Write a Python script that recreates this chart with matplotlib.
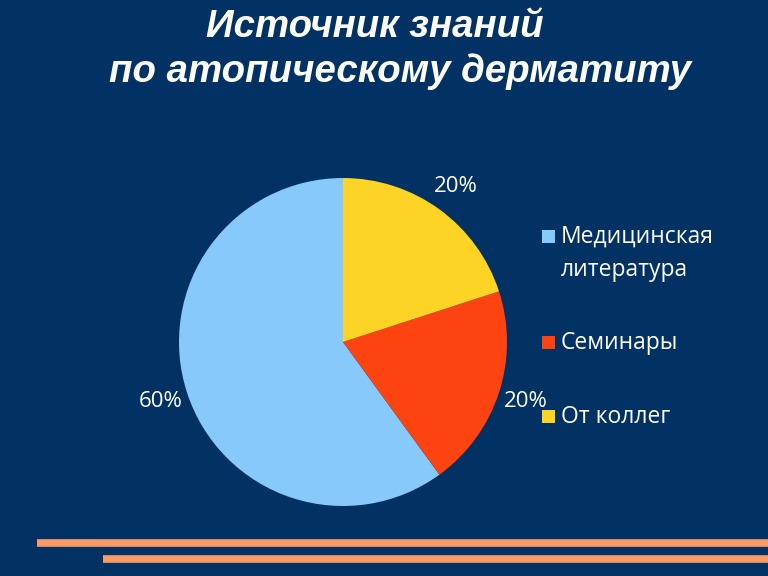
import matplotlib
matplotlib.use('Agg')
import matplotlib.pyplot as plt
from matplotlib.patches import Rectangle

# data
sources = ['Медицинская\nлитература', 'Семинары', 'От коллег']
shares = [60, 20, 20]
slice_colors = ['#87C9FA', '#FD4310', '#FDD324']
title_lines = ['Источник знаний', 'по атопическому дерматиту']

bg = '#023263'
line_color = '#F99A68'
W, H = 768, 576

fig = plt.figure(figsize=(7.68, 5.76), dpi=100, facecolor=bg)

# pie axes: centre ~ (343, 342) px, radius ~164 px
ax = fig.add_axes([179 / W, 70 / H, 328 / W, 328 / H])
ax.set_facecolor(bg)
wedges, texts = ax.pie(shares, colors=slice_colors, startangle=90, counterclock=True,
                       labels=[f'{v}%' for v in shares], labeldistance=1.17,
                       wedgeprops=dict(linewidth=0),
                       textprops=dict(color='white', fontsize=16, family='Open Sans'))
for t in texts:
    t.set_horizontalalignment('center')
    t.set_verticalalignment('center')
ax.set_xlim(-1, 1)
ax.set_ylim(-1, 1)
ax.set_aspect('equal')
ax.axis('off')

# legend, square aligned with the first line of each entry (as in the source slide)
y = 237
for label, col in zip(sources, slice_colors):
    fig.add_artist(Rectangle((542 / W, 1 - (y + 6) / H), 13 / W, 13 / H,
                             transform=fig.transFigure, facecolor=col, edgecolor='none'))
    fig.text(561 / W, 1 - (y - 12) / H, label, color='white', fontsize=16.5,
             family='Open Sans', ha='left', va='top', linespacing=1.5)
    y += 32 * (label.count('\n') + 1) + 42

# title
title_font = dict(color='white', fontsize=27.6, fontweight='bold', fontstyle='italic',
                  family='Liberation Sans', ha='center', va='center')
fig.text(375 / W, 1 - 27 / H, title_lines[0], **title_font)
fig.text(400 / W, 1 - 72 / H, title_lines[1], **title_font)

# decorative bottom lines
fig.add_artist(plt.Line2D([37 / W, 1], [1 - 543 / H] * 2, color=line_color, lw=5.5,
                          solid_capstyle='butt'))
fig.add_artist(plt.Line2D([103 / W, 1], [1 - 559 / H] * 2, color=line_color, lw=5.5,
                          solid_capstyle='butt'))

fig.savefig('out.png', dpi=100, facecolor=bg)
